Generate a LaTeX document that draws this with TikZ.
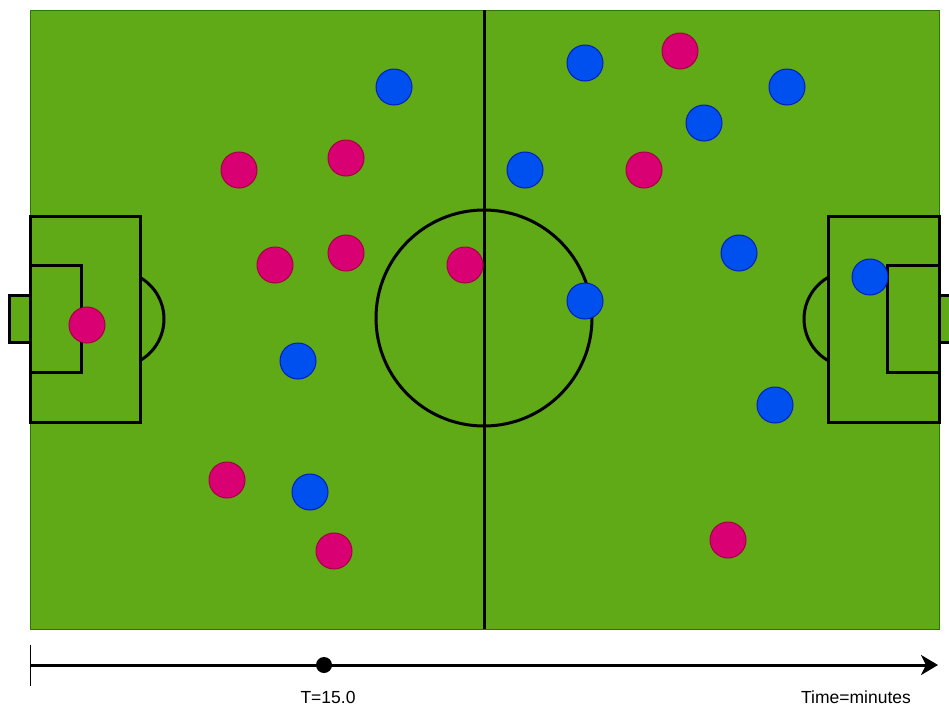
\documentclass[tikz,border=0pt]{standalone}
\usepackage{fontspec}
\setmainfont{Liberation Sans}
\usetikzlibrary{arrows.meta,positioning}

\definecolor{pitchgreen}{HTML}{60A917}
\definecolor{pitchedge}{HTML}{2D7600}
\definecolor{homefill}{HTML}{D80073}
\definecolor{homeedge}{HTML}{A50040}
\definecolor{awayfill}{HTML}{0050EF}
\definecolor{awayedge}{HTML}{001DBC}

\begin{document}
\begin{tikzpicture}[
  x=1pt,y=-1pt,
  >=Stealth,
  markline/.style={draw=black,line width=3pt},
  home/.style={circle,draw=homeedge,fill=homefill,line width=1pt,minimum size=36pt,inner sep=0pt},
  away/.style={circle,draw=awayedge,fill=awayfill,line width=1pt,minimum size=36pt,inner sep=0pt},
  timeaxis/.style={line width=3pt,arrows={-Stealth[length=17pt,width=20pt,inset=5pt]}},
  timelabel/.style={font=\fontsize{17.5}{20}\selectfont,inner sep=1pt}
]
  \useasboundingbox (0,0) rectangle (949,713);
  \clip (0,0) rectangle (949,713);

  % pitch
  \fill[pitchgreen,draw=pitchedge,line width=1pt] (30,10) rectangle (939,629);
  \draw[markline,fill=pitchgreen] (9,295) rectangle (30,342);
  \draw[markline,fill=pitchgreen] (939,295) rectangle (962,342);
  \draw[markline] (30,216) rectangle (140,422);
  \draw[markline] (30,265) rectangle (81,372);
  \draw[markline] (828,216) rectangle (939,422);
  \draw[markline] (887,265) rectangle (939,372);
  \draw[markline] (140,277.4) arc[start angle=60,end angle=-60,radius=48pt];
  \draw[markline] (828,277.4) arc[start angle=120,end angle=240,radius=48pt];
  \draw[markline] (484,10) -- (484,629);
  \draw[markline] (484,318) circle[radius=108pt];

  % players
  \foreach \px/\py [count=\i] in {239/170,346/158,275/265,346/253,465/265,87/325,
      227/480,334/551,680/51,644/170,728/540}
    \node[home] (h\i) at (\px,\py) {};
  \foreach \px/\py [count=\i] in {394/87,298/361,310/492,585/63,787/87,704/123,
      525/170,739/253,585/301,870/277,775/405}
    \node[away] (a\i) at (\px,\py) {};

  % timeline
  \coordinate (tstart) at (30,665);
  \coordinate (tend) at (938,665);
  \coordinate (ticktop) at (30,645);
  \coordinate (tickbot) at (30,686);
  \draw[timeaxis] (tstart) -- (tend);
  \draw[line width=1pt] (ticktop) -- (tickbot);
  \node[circle,fill=black,minimum size=16pt,inner sep=0pt] (now) at (324,665) {};
  \node[timelabel] (nowlabel) at (328,697) {T=15.0};
  \node[timelabel] (unitlabel) at (856,697) {Time=minutes};
\end{tikzpicture}
\end{document}
